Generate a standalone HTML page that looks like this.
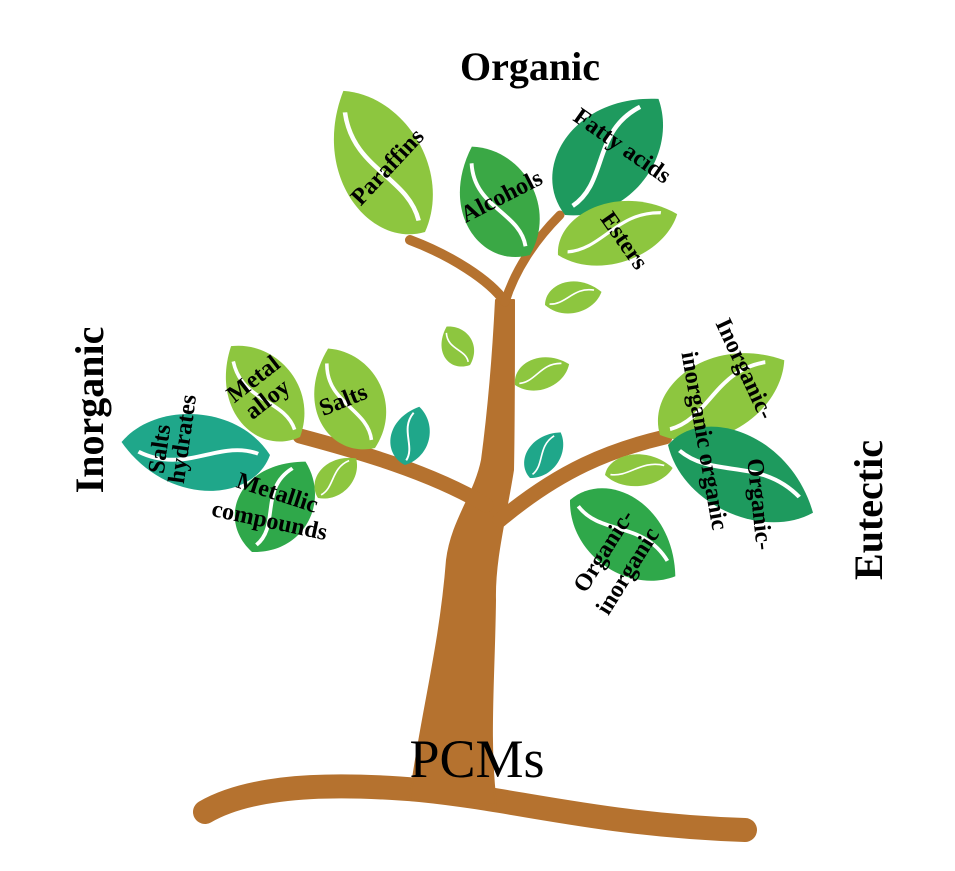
<!DOCTYPE html>
<html><head><meta charset="utf-8"><style>
html,body{margin:0;padding:0;background:#fff;}
svg{display:block;}
text{font-family:"Liberation Serif",serif;font-weight:bold;fill:#000;}
</style></head><body>
<svg width="955" height="871" viewBox="0 0 955 871" xmlns="http://www.w3.org/2000/svg">
<defs>
<g id="leaf">
<path d="M0,0 C8,-38 65,-48 100,-2 C80,32 25,36 0,0 Z"/>
<path d="M8,0 C35,8 55,-22 88,-8" fill="none" stroke="#fff" stroke-width="3"/>
</g>
</defs>
<g fill="#b5722f" stroke="#b5722f" stroke-linecap="round" stroke-linejoin="round">
<path d="M205,812 C260,780 360,785 420,790 C520,800 600,825 745,830" fill="none" stroke-width="24"/>
<path d="M410,800 C420,720 440,650 447,560 C452,520 475,495 482,460 C490,400 494,340 496,300 L514,300 C514,360 514,420 513,470 C505,520 494,560 495,600 C494,680 488,740 496,805 Z" stroke-width="2"/>
<path d="M505,302 C490,280 450,255 410,240" fill="none" stroke-width="10"/>
<path d="M505,302 C515,270 535,240 560,215" fill="none" stroke-width="9"/>
<path d="M486,505 C430,472 360,452 300,436" fill="none" stroke-width="15"/>
<path d="M500,520 C560,470 610,450 665,437" fill="none" stroke-width="15"/>
</g>
<g fill="#8dc63f"><use href="#leaf" transform="translate(425,232) rotate(-119) scale(1.63,1.5)"/></g>
<g fill="#3aa845"><use href="#leaf" transform="translate(530,255) rotate(-117) scale(1.23,1.3)"/></g>
<g fill="#1e9a5e"><use href="#leaf" transform="translate(565,215) rotate(-50) scale(1.49,1.5)"/></g>
<g fill="#8dc63f"><use href="#leaf" transform="translate(558,255) rotate(-18) scale(1.26,1.05)"/></g>
<g fill="#8dc63f"><use href="#leaf" transform="translate(545,305) rotate(-12) scale(0.58,0.55)"/></g>
<g fill="#8dc63f"><use href="#leaf" transform="translate(470,365) rotate(-120) scale(0.45,0.55)"/></g>
<g fill="#8dc63f"><use href="#leaf" transform="translate(515,385) rotate(-20) scale(0.58,0.55)"/></g>
<g fill="#1fa78a"><use href="#leaf" transform="translate(530,478) rotate(-55) scale(0.55,0.55)"/></g>
<g fill="#8dc63f"><use href="#leaf" transform="translate(605,475) rotate(-5) scale(0.68,0.55)"/></g>
<g fill="#8dc63f"><use href="#leaf" transform="translate(300,437) rotate(-126) scale(1.14,1.2)"/></g>
<g fill="#8dc63f"><use href="#leaf" transform="translate(375,448) rotate(-114) scale(1.1,1.2)"/></g>
<g fill="#1fa78a"><use href="#leaf" transform="translate(405,465) rotate(-75) scale(0.6,0.65)"/></g>
<g fill="#1fa78a"><use href="#leaf" transform="translate(270,455) rotate(-174) scale(1.49,1.3)"/></g>
<g fill="#2fa84a"><use href="#leaf" transform="translate(252,552) rotate(-58) scale(1.05,1.25)"/></g>
<g fill="#8dc63f"><use href="#leaf" transform="translate(318,498) rotate(-45) scale(0.55,0.55)"/></g>
<g fill="#8dc63f"><use href="#leaf" transform="translate(660,435) rotate(-30) scale(1.45,1.3)"/></g>
<g fill="#1e9a5e"><use href="#leaf" transform="translate(668,445) rotate(26) scale(1.6,1.35)"/></g>
<g fill="#2fa84a"><use href="#leaf" transform="translate(570,500) rotate(37) scale(1.3,1.25)"/></g>
<text x="530" y="80" font-size="40" text-anchor="middle">Organic</text>
<text transform="translate(103,410) rotate(-90)" font-size="40" text-anchor="middle">Inorganic</text>
<text transform="translate(882,510) rotate(-90)" font-size="40" text-anchor="middle">Eutectic</text>
<text x="477" y="777" font-size="54" text-anchor="middle" style="font-weight:normal">PCMs</text>
<g font-size="24">
<text transform="translate(393,172) rotate(-47)" text-anchor="middle">Paraffins</text>
<text transform="translate(505,203) rotate(-27)" text-anchor="middle">Alcohols</text>
<text transform="translate(618,152) rotate(35)" text-anchor="middle">Fatty acids</text>
<text transform="translate(618,245) rotate(55)" text-anchor="middle">Esters</text>
<text transform="translate(258,385) rotate(-38)" text-anchor="middle">Metal</text>
<text transform="translate(272,405) rotate(-38)" text-anchor="middle">alloy</text>
<text transform="translate(346,407) rotate(-22)" text-anchor="middle">Salts</text>
<text transform="translate(167,450) rotate(-82)" text-anchor="middle">Salts</text>
<text transform="translate(190,440) rotate(-82)" text-anchor="middle">hydrates</text>
<text transform="translate(275,500) rotate(18)" text-anchor="middle">Metallic</text>
<text transform="translate(268,528) rotate(12)" text-anchor="middle">compounds</text>
<text transform="translate(738,372) rotate(65)" text-anchor="middle">Inorganic-</text>
<text transform="translate(697,442) rotate(80)" text-anchor="middle">inorganic organic</text>
<text transform="translate(752,505) rotate(84)" text-anchor="middle">Organic-</text>
<text transform="translate(610,555) rotate(-58)" text-anchor="middle">Organic-</text>
<text transform="translate(634,575) rotate(-58)" text-anchor="middle">inorganic</text>
</g>
</svg>
</body></html>
